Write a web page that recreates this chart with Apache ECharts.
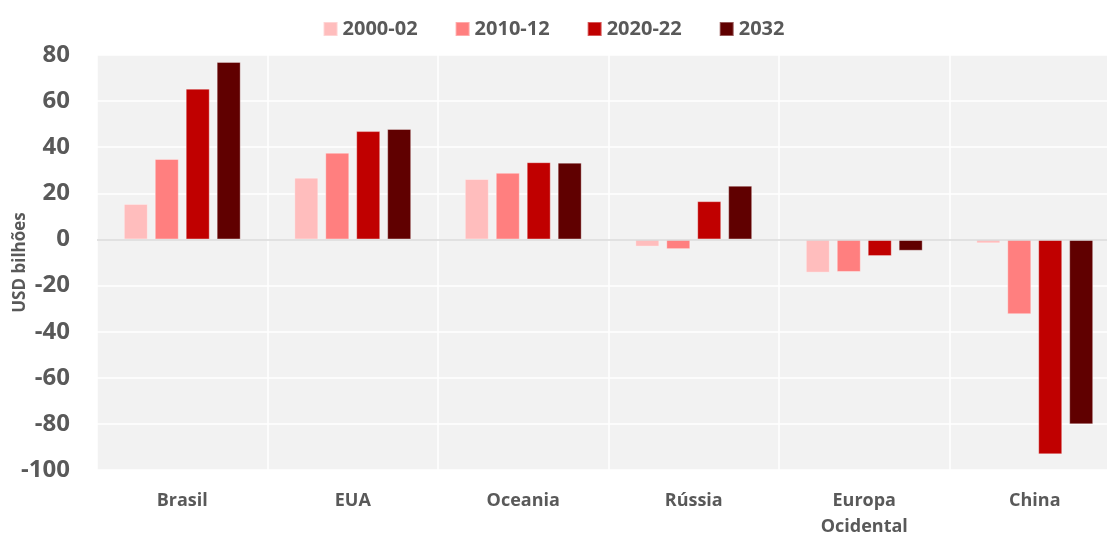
<!DOCTYPE html>
<html>
<head>
<meta charset="utf-8">
<script src="https://cdn.jsdelivr.net/npm/echarts@6/dist/echarts.min.js"></script>
<style>
  html, body { margin: 0; padding: 0; background: #fff; }
  #chart { width: 1107px; height: 539px; }
</style>
</head>
<body>
<div id="chart"></div>
<script>
var regioes = ['Brasil', 'EUA', 'Oceania', 'Rússia', 'Europa\nOcidental', 'China'];
var periodos = ['2000-02', '2010-12', '2020-22', '2032'];
var cores = ['#ffbdbd', '#ff7f7f', '#c00000', '#600000'];

var v2000 = [15.4, 26.8, 26.2, -3.1, -14.4, -1.7];
var v2010 = [34.9, 37.6, 28.9, -4.2, -14.1, -32.4];
var v2020 = [65.4, 47.0, 33.5, 16.6, -7.2, -93.2];
var v2032 = [77.0, 47.9, 33.3, 23.3, -4.9, -80.2];

var eixoY = { min: -100, max: 80, step: 20 };

var chart = echarts.init(document.getElementById('chart'));
var fonte = '"Open Sans", sans-serif';
var cinza = '#595959';

var valores = [v2000, v2010, v2020, v2032];
var series = periodos.map(function (p, i) {
    var s = {
        name: p,
        type: 'bar',
        data: valores[i],
        barWidth: 24,
        barGap: '29%',
        itemStyle: { color: cores[i], borderColor: 'rgba(255,255,255,0.35)', borderWidth: 1 }
    };
    if (i === 0) {
        s.markLine = {
            silent: true,
            symbol: 'none',
            label: { show: false },
            lineStyle: { color: '#d9d9d9', type: 'solid', width: 1.5 },
            data: [{ yAxis: 0 }]
        };
    }
    return s;
});

chart.setOption({
    animation: false,
    legend: {
        top: 14,
        left: 'center',
        itemWidth: 14,
        itemHeight: 14,
        itemGap: 37,
        icon: 'rect',
        textStyle: { color: cinza, fontSize: 20, fontWeight: 'bold', fontFamily: fonte },
        data: periodos
    },
    grid: {
        left: 97,
        right: -13,
        top: 55,
        bottom: 69,
        outerBoundsMode: 'none',
        containLabel: false,
        show: true,
        backgroundColor: '#f2f2f2',
        borderWidth: 0
    },
    xAxis: {
        type: 'category',
        data: regioes,
        axisLine: { show: false },
        axisTick: { show: false },
        splitLine: { show: true, lineStyle: { color: '#ffffff', width: 1.5 } },
        axisLabel: {
            color: cinza, fontSize: 18, fontWeight: 'bold', fontFamily: fonte,
            margin: 18, lineHeight: 26
        }
    },
    yAxis: {
        type: 'value',
        min: eixoY.min,
        max: eixoY.max,
        interval: eixoY.step,
        name: 'USD bilhões',
        nameLocation: 'middle',
        nameGap: 68,
        nameMoveOverlap: false,
        nameTextStyle: { color: cinza, fontSize: 17, fontWeight: 'bold', fontFamily: fonte },
        axisLine: { show: false },
        axisTick: { show: false },
        splitLine: { lineStyle: { color: '#ffffff', width: 1.5 } },
        axisLabel: { color: cinza, fontSize: 24, fontWeight: 'bold', fontFamily: fonte, margin: 27 }
    },
    series: series
});
</script>
</body>
</html>
